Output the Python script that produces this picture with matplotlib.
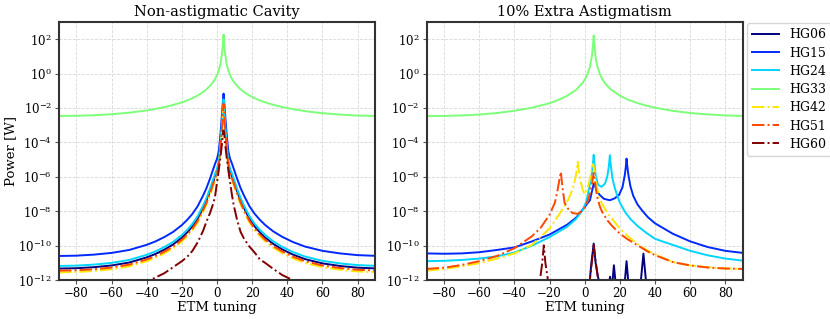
import numpy as np
import matplotlib
matplotlib.use("Agg")
import matplotlib.pyplot as plt

plt.rcParams['font.family'] = ['DejaVu Serif']
plt.rcParams['mathtext.fontset'] = 'dejavuserif'

labels = ["HG06", "HG15", "HG24", "HG33", "HG42", "HG51", "HG60"]
styles = ["-", "-", "-", "-", "-.", "-.", "-."]
colors = plt.cm.jet(np.linspace(0, 1, 7))

# --- non-astigmatic cavity, log10(power [W]) ---
x_left = [-90, -80, -70, -60, -50, -40, -35, -30, -25, -20, -17, -14, -11, -8, -6, -4, -2, -1, 0, 1,
          2, 3, 3.2, 3.7, 4.2, 4.4, 5.4, 6.4, 7.4, 8.4, 9.4, 11.4, 13.4, 15.4, 18.4, 21.4, 24.4, 27.4,
          32, 37, 43, 50, 60, 70, 80, 90]
hg15_l = [-10.6, -10.58, -10.52, -10.42, -10.25, -9.95, -9.75, -9.5, -9.2, -8.8, -8.5, -8.15, -7.7,
          -7.1, -6.65, -6.1, -5.5, -5.2, -4.95, -4.5, -3.45, -2.1, -1.8, -1.16, -1.8, -2.1, -3.45,
          -4.5, -4.95, -5.2, -5.5, -6.1, -6.65, -7.1, -7.7, -8.15, -8.5, -8.8, -9.17, -9.48, -9.78,
          -10.05, -10.3, -10.45, -10.55, -10.59]
hg24_l = [-11.18, -11.16, -11.1, -11.0, -10.83, -10.53, -10.33, -10.08, -9.78, -9.38, -9.08, -8.73,
          -8.28, -7.68, -7.23, -6.68, -6.08, -5.78, -5.53, -5.05, -3.95, -2.65, -2.3, -1.5, -2.3,
          -2.65, -3.95, -5.05, -5.53, -5.78, -6.08, -6.68, -7.23, -7.68, -8.28, -8.73, -9.08, -9.38,
          -9.75, -10.06, -10.36, -10.63, -10.88, -11.03, -11.13, -11.17]
hg06_l = [-11.33, -11.31, -11.25, -11.15, -10.98, -10.68, -10.48, -10.23, -9.93, -9.53, -9.23, -8.88,
          -8.43, -7.83, -7.38, -6.83, -6.23, -5.93, -5.68, -5.2, -4.1, -2.85, -2.5, -1.9, -2.5,
          -2.85, -4.1, -5.2, -5.68, -5.93, -6.23, -6.83, -7.38, -7.83, -8.43, -8.88, -9.23, -9.53,
          -9.9, -10.21, -10.51, -10.78, -11.03, -11.18, -11.28, -11.32]
hg51_l = [-11.45, -11.43, -11.37, -11.27, -11.1, -10.8, -10.6, -10.35, -10.05, -9.65, -9.35, -9.0,
          -8.55, -7.95, -7.5, -6.95, -6.35, -6.05, -5.8, -5.3, -4.2, -2.9, -2.45, -1.75, -2.45, -2.9,
          -4.2, -5.3, -5.8, -6.05, -6.35, -6.95, -7.5, -7.95, -8.55, -9.0, -9.35, -9.65, -10.02,
          -10.33, -10.63, -10.9, -11.15, -11.3, -11.4, -11.44]
hg42_l = [-11.55, -11.53, -11.47, -11.37, -11.2, -10.9, -10.7, -10.45, -10.15, -9.75, -9.45, -9.1,
          -8.65, -8.05, -7.6, -7.05, -6.45, -6.15, -5.9, -5.4, -4.3, -3.0, -2.5, -1.8, -2.5, -3.0,
          -4.3, -5.4, -5.9, -6.15, -6.45, -7.05, -7.6, -8.05, -8.65, -9.1, -9.45, -9.75, -10.12,
          -10.43, -10.73, -11.0, -11.25, -11.4, -11.5, -11.54]
hg60_l = [-13.5, -13.3, -13.05, -12.75, -12.45, -12.1, -11.85, -11.6, -11.25, -10.9, -10.65, -10.3,
          -9.8, -9.15, -8.6, -8.1, -7.5, -7.05, -6.3, -5.6, -4.8, -3.9, -3.6, -3.3, -3.6, -3.9, -4.8,
          -5.6, -6.3, -7.0, -7.6, -8.5, -9.2, -9.6, -10.05, -10.4, -10.8, -11.0, -11.35, -11.7,
          -12.0, -12.3, -12.6, -12.9, -13.2, -13.4]
hg33_l = [-2.46, -2.45, -2.42, -2.36, -2.27, -2.14, -2.05, -1.95, -1.82, -1.67, -1.56, -1.43, -1.27,
          -1.07, -0.91, -0.71, -0.46, -0.29, -0.08, 0.19, 0.59, 1.31, 1.56, 2.27, 1.56, 1.31, 0.59,
          0.19, -0.08, -0.29, -0.46, -0.71, -0.91, -1.07, -1.27, -1.43, -1.56, -1.67, -1.81, -1.94,
          -2.06, -2.18, -2.30, -2.38, -2.44, -2.46]

# --- 10% extra astigmatism ---
x_hg33_r = [-90, -80, -70, -60, -50, -40, -30, -20, -15, -10, -5, -1, 1, 3, 4.1, 4.6, 5.1, 5.6, 6.1,
            7, 8.7, 10, 12, 15, 20, 25, 30, 35, 40, 50, 60, 70, 80, 90]
hg33_r = [-2.46, -2.46, -2.43, -2.38, -2.29, -2.16, -1.98, -1.72, -1.53, -1.29, -0.95, -0.51, -0.17,
          0.41, 1.03, 1.55, 2.22, 1.55, 1.03, 0.49, -0.06, -0.32, -0.62, -0.93, -1.28, -1.53, -1.71,
          -1.86, -1.98, -2.16, -2.29, -2.37, -2.43, -2.46]
x_hg15_r = [-90, -80, -70, -60, -50, -40, -30, -20, -10, -5, 0, 3, 5.1, 5.8, 7, 8.7, 11, 14.3, 17,
            19.5, 21.5, 22.8, 23.4, 23.8, 24.2, 24.8, 26, 27.6, 30, 33, 36, 40, 45, 50, 60, 70, 80, 90]
hg15_r = [-10.45, -10.47, -10.45, -10.38, -10.25, -10.1, -9.75, -9.35, -8.78, -8.38, -7.75, -7.35,
          -6.4, -6.5, -6.85, -7.07, -7.28, -7.36, -7.25, -7.05, -6.6, -5.9, -5.4, -4.94, -5.35,
          -5.85, -6.55, -7.1, -7.6, -8.0, -8.35, -8.7, -9.0, -9.3, -9.75, -10.08, -10.3, -10.42]
x_hg24_r = [-90, -80, -70, -60, -50, -40, -30, -20, -10, -5, -1, 1, 3, 4.1, 4.6, 5.1, 5.6, 6.2, 7.5,
            9.5, 11.5, 12.8, 13.7, 14.3, 14.9, 15.8, 17, 18.5, 20, 23, 26, 30, 35, 40, 45, 50, 60,
            70, 80, 90]
hg24_r = [-10.9, -10.88, -10.83, -10.75, -10.62, -10.4, -10.0, -9.5, -8.9, -8.45, -7.9, -7.4, -6.4,
          -5.75, -5.3, -4.72, -5.3, -5.9, -6.45, -6.58, -6.4, -6.0, -5.4, -4.74, -5.4, -6.1, -6.6,
          -7.1, -7.5, -8.05, -8.45, -8.85, -9.25, -9.6, -9.78, -9.95, -10.3, -10.56, -10.75, -10.87]
x_hg42_r = [-90, -80, -70, -60, -50, -40, -30, -20, -15, -10, -8, -6, -5, -4.5, -4.0, -3.5, -2.5,
            -1, 0, 1, 2, 3, 4, 4.8, 5.5, 6.5, 8, 10, 13, 16, 20, 24, 28, 32, 36, 40, 50, 60, 70, 80, 90]
hg42_r = [-11.45, -11.35, -11.2, -11.02, -10.75, -10.45, -9.95, -9.0, -8.25, -7.45, -7.0, -6.4, -5.9,
          -5.5, -5.13, -5.55, -6.2, -6.8, -7.0, -6.85, -6.5, -6.1, -5.6, -5.25, -5.6, -6.4, -7.1,
          -7.6, -8.1, -8.5, -9.0, -9.4, -9.75, -10.05, -10.3, -10.5, -10.95, -11.15, -11.25,
          -11.32, -11.35]
x_hg51_r = [-90, -80, -70, -60, -50, -40, -30, -25, -20, -17, -15.5, -14.5, -13.6, -12.8, -11.5,
            -9.5, -7, -4, -1, 1, 3, 4.3, 5.1, 5.9, 7, 8.7, 10, 13, 16, 20, 24, 28, 32, 36, 40, 50, 60,
            70, 80, 90]
hg51_r = [-11.35, -11.28, -11.12, -10.9, -10.6, -10.15, -9.45, -8.95, -8.2, -7.5, -6.8, -6.2, -5.71,
          -6.5, -7.5, -7.85, -8.1, -8.15, -7.95, -7.6, -6.97, -6.3, -5.77, -6.35, -7.15, -7.75,
          -8.05, -8.55, -8.9, -9.3, -9.6, -9.85, -10.1, -10.35, -10.55, -10.95, -11.15, -11.27,
          -11.33, -11.35]
x_hg06_r = [-90, 2.6, 3.8, 5.1, 6.2, 7.5, 9, 13.8, 14.4, 15.0, 15.8, 16.6, 17.5, 22.8, 23.8, 24.8,
            31.8, 33.4, 35.0, 90]
hg06_r = [-14, -12.3, -11.0, -9.88, -11.0, -11.8, -12.4, -12.2, -11.8, -12.2, -12.1, -11.14, -12.1,
          -12.1, -10.9, -12.1, -12.2, -10.46, -12.2, -14]
x_hg60_r = [-90, -25.6, -24.2, -23.3, -22.4, -20.8, 2.8, 4.0, 5.1, 6.2, 7.8, 90]
hg60_r = [-14, -12.1, -11.0, -9.98, -11.0, -12.1, -12.1, -11.0, -9.98, -10.9, -12.1, -14]

left = [(x_left, hg06_l), (x_left, hg15_l), (x_left, hg24_l), (x_left, hg33_l),
        (x_left, hg42_l), (x_left, hg51_l), (x_left, hg60_l)]
right = [(x_hg06_r, hg06_r), (x_hg15_r, hg15_r), (x_hg24_r, hg24_r), (x_hg33_r, hg33_r),
         (x_hg42_r, hg42_r), (x_hg51_r, hg51_r), (x_hg60_r, hg60_r)]

fig = plt.figure(figsize=(8.3, 3.19), dpi=100)
ax1 = fig.add_axes([0.071, 0.122, 0.381, 0.809])
ax2 = fig.add_axes([0.514, 0.122, 0.381, 0.809])

for ax, data, title in [(ax1, left, "Non-astigmatic Cavity"), (ax2, right, "10% Extra Astigmatism")]:
    for (xs, ys), lab, ls, c in zip(data, labels, styles, colors):
        ax.semilogy(xs, 10.0 ** np.array(ys), ls, color=c, lw=1.4, label=lab)
    ax.set_xlim(-90, 90)
    ax.set_ylim(1e-12, 1e3)
    ax.set_xticks([-80, -60, -40, -20, 0, 20, 40, 60, 80])
    ax.set_yticks([10.0 ** k for k in range(-12, 3, 2)])
    ax.minorticks_off()
    ax.grid(True, color='#d8d8d8', linestyle='--', linewidth=0.6)
    ax.set_axisbelow(True)
    for s in ax.spines.values():
        s.set_linewidth(1.5)
        s.set_color('#333333')
    ax.tick_params(labelsize=8.5, direction='out', color='#555555', length=3, pad=2)
    ax.set_title(title, fontsize=10.5, pad=4)
    ax.set_xlabel("ETM tuning", fontsize=9.5, labelpad=1)

ax1.set_ylabel("Power [W]", fontsize=9.5, labelpad=1)
ax2.legend(loc='upper left', bbox_to_anchor=(1.012, 0.995), fontsize=9, handlelength=2.2,
           labelspacing=0.42, borderaxespad=0.0, edgecolor='#cccccc', fancybox=True)

fig.savefig("out.png", dpi=100)
